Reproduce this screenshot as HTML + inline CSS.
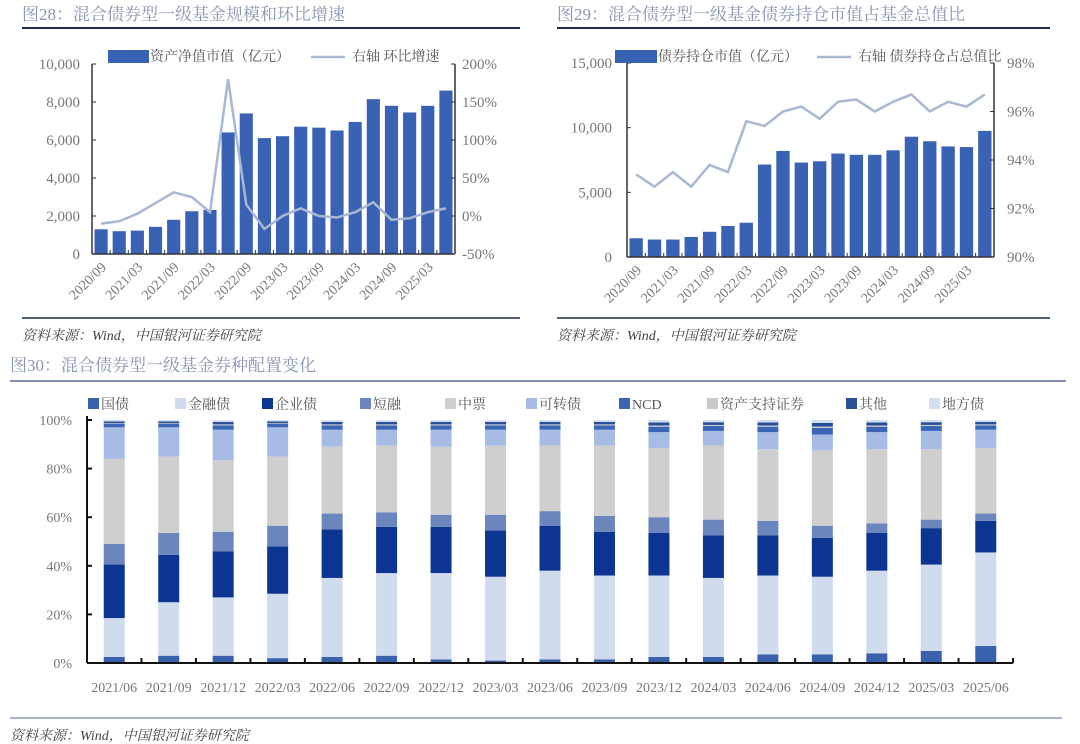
<!DOCTYPE html>
<html><head><meta charset="utf-8"><style>
body{margin:0;background:#fff;width:1080px;height:744px;overflow:hidden}
svg{display:block}
text{font-family:"Liberation Serif","Noto Serif CJK SC",serif}
</style></head><body>
<svg id="s" width="1080" height="744" xmlns="http://www.w3.org/2000/svg"></svg>
<script>
var s=document.getElementById('s'),h='';
function R(x,y,w,hh,c){h+='<rect x="'+x+'" y="'+y+'" width="'+w+'" height="'+hh+'" fill="'+c+'"/>';}
function L(x1,y1,x2,y2,c,w){h+='<line x1="'+x1+'" y1="'+y1+'" x2="'+x2+'" y2="'+y2+'" stroke="'+c+'" stroke-width="'+(w||1)+'"/>';}
function T(x,y,t,o){o=o||{};h+='<text x="'+x+'" y="'+y+'" font-size="'+(o.s||13)+'" fill="'+(o.c||'#777')+'"'+(o.a?' text-anchor="'+o.a+'"':'')+(o.i?' font-style="italic"':'')+(o.t?' transform="'+o.t+'"':'')+'>'+t+'</text>';}
var B='#3a62b4',LN='#a9b8d2',AX='#333';
T(22,20,'图28：混合债券型一级基金规模和环比增速',{s:17,c:'#8795b3'});
T(557,20,'图29：混合债券型一级基金债券持仓市值占基金总值比',{s:17,c:'#8795b3'});
L(22,28,520,28,'#1c2b4a',2);L(557,28,1050,28,'#1c2b4a',2);
L(22,318,520,318,'#1c2b4a',1.5);L(557,318,1050,318,'#1c2b4a',1.5);
T(22,340,'资料来源：Wind，中国银河证券研究院',{s:14,c:'#444',i:1});
T(557,340,'资料来源：Wind，中国银河证券研究院',{s:14,c:'#444',i:1});
T(10,371,'图30：混合债券型一级基金券种配置变化',{s:17,c:'#8795b3'});
L(10,381,1066,381,'#7f8fb0',2);
L(10,718,1062,718,'#8a9ab8',1.5);
T(10,740,'资料来源：Wind，中国银河证券研究院',{s:14,c:'#444',i:1});
var lab=['2020/09','2021/03','2021/09','2022/03','2022/09','2023/03','2023/09','2024/03','2024/09','2025/03'];
(function(){var x0=92,x1=455,y0=254,y1=64,n=20,w=(x1-x0)/n;
var v=[1300,1200,1230,1430,1800,2250,2320,6400,7400,6100,6200,6700,6650,6500,6950,8150,7800,7450,7800,8600];
var p=[-10,-7,3,17,31,25,5,180,15,-17,0,10,0,-2,5,18,-5,-3,5,10];
for(var i=0;i<n;i++){var bh=v[i]/10000*(y0-y1);R(x0+i*w+2.5,y0-bh,w-5,bh,B);}
var pts=p.map(function(q,i){return (x0+(i+.5)*w).toFixed(1)+','+(216-q*0.76).toFixed(1)}).join(' ');
h+='<polyline points="'+pts+'" fill="none" stroke="'+LN+'" stroke-width="2.5"/>';
L(x0,y1,x0,y0,AX,1.5);L(x1,y1,x1,y0,AX,1.5);L(x0,y0,x1,y0,AX,1.5);
for(var k=0;k<=5;k++){var y=y0-k*(y0-y1)/5;L(x0,y,x0+4,y,AX);L(x1-4,y,x1,y,AX);T(80,y+5,(k*2000).toLocaleString('en-US'),{a:'end',s:15});T(462,y+5,(k*50-50)+'%',{s:15});}
for(var i=1;i<n;i++)L(x0+i*w,y0,x0+i*w,y0-4,AX);
for(var j=0;j<10;j++){var cx=x0+(2*j+.5)*w+6;T(cx,y0+14,lab[j],{a:'end',s:14,t:'rotate(-45 '+cx+' '+(y0+14)+')'});}
R(108,50,41,13,B);T(150,61,'资产净值市值（亿元）',{s:14,c:'#555'});
L(311,57,345,57,LN,2.5);T(352,61,'右轴 环比增速',{s:14,c:'#555'});
})();
(function(){var x0=627,x1=994,y0=257,y1=63,n=20,w=(x1-x0)/n;
var v=[1450,1350,1350,1550,1950,2400,2650,7150,8200,7300,7400,8000,7900,7900,8250,9300,8950,8550,8500,9750];
var p=[93.4,92.9,93.5,92.9,93.8,93.5,95.6,95.4,96.0,96.2,95.7,96.4,96.5,96.0,96.4,96.7,96.0,96.4,96.2,96.7];
for(var i=0;i<n;i++){var bh=v[i]/15000*(y0-y1);R(x0+i*w+2.5,y0-bh,w-5,bh,B);}
var pts=p.map(function(q,i){return (x0+(i+.5)*w).toFixed(1)+','+(y0-(q-90)/8*(y0-y1)).toFixed(1)}).join(' ');
h+='<polyline points="'+pts+'" fill="none" stroke="'+LN+'" stroke-width="2.5"/>';
L(x0,y1,x0,y0,AX,1.5);L(x1,y1,x1,y0,AX,1.5);L(x0,y0,x1,y0,AX,1.5);
for(var k=0;k<=3;k++){var y=y0-k*(y0-y1)/3;L(x0,y,x0+4,y,AX);T(612,y+5,(k*5000).toLocaleString('en-US'),{a:'end',s:15});}
for(var k=0;k<=4;k++){var y=y0-k*(y0-y1)/4;L(x1-4,y,x1,y,AX);T(1007,y+5,(90+2*k)+'%',{s:15});}
for(var i=1;i<n;i++)L(x0+i*w,y0,x0+i*w,y0-4,AX);
for(var j=0;j<10;j++){var cx=x0+(2*j+.5)*w+6;T(cx,y0+14,lab[j],{a:'end',s:14,t:'rotate(-45 '+cx+' '+(y0+14)+')'});}
R(615,50,42,13,B);T(658,61,'债券持仓市值（亿元）',{s:14,c:'#555'});
L(817,57,851,57,LN,2.5);T(858,61,'右轴 债券持仓占总值比',{s:14,c:'#555'});
})();
(function(){var x0=87,x1=1013,y0=663,y1=420,n=17,w=(x1-x0)/n,k=(y0-y1)/100;
var cols=['#3a62ac','#d0dcee','#0c3591','#6a86bd','#cfcfcf','#a7bce4','#3b66b8','#c9c9c9','#284f95','#d3def0'];
var names=['国债','金融债','企业债','短融','中票','可转债','NCD','资产支持证券','其他','地方债'];
var d=[[2.5,18.5,40.5,49,84,97],[3,25,44.5,53.5,85,97],[3,27,46,54,83.5,96],[2,28.5,48,56.5,85,97],[2.5,35,55,61.5,89,96],[3,37,56,62,89.5,96],[1.5,37,56,61,89,96],[1,35.5,54.5,61,89.5,96],[1.5,38,56.5,62.5,89.5,96],[1.5,36,54,60.5,89.5,96],[2.5,36,53.5,60,88.5,95],[2.5,35,52.5,59,89.5,95.5],[3.5,36,52.5,58.5,88,95],[3.5,35.5,51.5,56.5,87.5,94],[4,38,53.5,57.5,88,95],[5,40.5,55.5,59,88,95.5],[7,45.5,58.5,61.5,88.5,96]];
var xl=['2021/06','2021/09','2021/12','2022/03','2022/06','2022/09','2022/12','2023/03','2023/06','2023/09','2023/12','2024/03','2024/06','2024/09','2024/12','2025/03','2025/06'];
for(var i=0;i<n;i++){var c=d[i].slice();var r=100-c[5];c.push(c[5]+r*0.45,c[5]+r*0.55,c[5]+r*0.8,100);
var prev=0,bx=x0+(i+.5)*w-10.5;for(var j=0;j<10;j++){var t=c[j];R(bx,y0-t*k,21,(t-prev)*k,cols[j]);prev=t;}
T(x0+(i+.5)*w,y0+29,xl[i],{a:'middle',s:14});}
L(x0,y1-4,x0,y0,'#111',2);L(x0,y0,x1,y0,'#111',2);
for(var q=0;q<=5;q++){var y=y0-q*20*k;L(x0,y,x0+5,y,'#111',2);T(x0-15,y+5,(q*20)+'%',{a:'end',s:14});}
for(var i=1;i<=n;i++)L(x0+i*w,y0,x0+i*w,y0-5,'#111',2);
var lx=[88,175,262,360,445,526,619,707,846,929];
for(var j=0;j<10;j++){R(lx[j],398,11,11,cols[j]);T(lx[j]+13,409,names[j],{s:14,c:'#555'});}
})();
s.innerHTML=h;
</script>
</body></html>
